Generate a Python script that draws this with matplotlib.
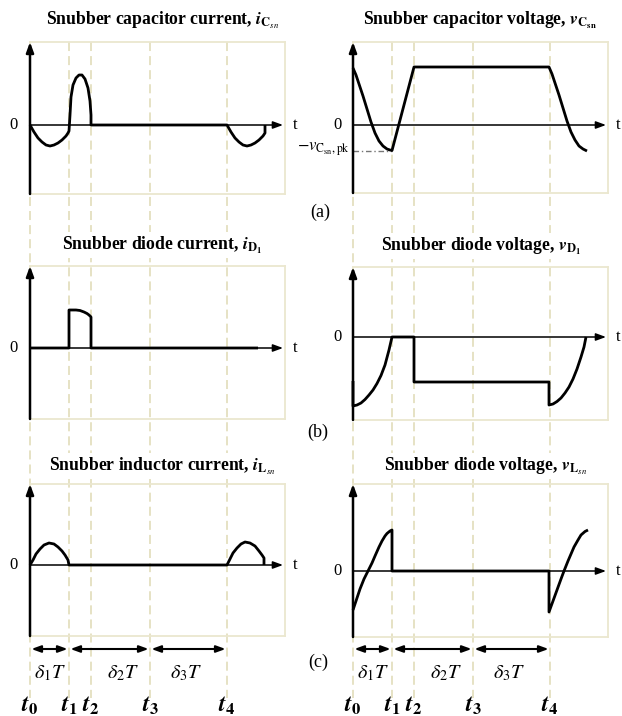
import matplotlib
matplotlib.use('Agg')
import matplotlib.pyplot as plt
import matplotlib.transforms as mtransforms
from matplotlib.lines import Line2D

plt.rcParams['font.family'] = ['Liberation Serif', 'DejaVu Serif']
plt.rcParams['mathtext.fontset'] = 'stix'

# ---------------- data (time in schematic units, amplitude in schematic units) ----------------
t_marks = [0, 39, 61, 120, 197]
t_mark_labels = [r'$\mathbfit{t}_{\mathbf{0}}$', r'$\mathbfit{t}_{\mathbf{1}}$', r'$\mathbfit{t}_{\mathbf{2}}$',
                 r'$\mathbfit{t}_{\mathbf{3}}$', r'$\mathbfit{t}_{\mathbf{4}}$']
delta_spans = [(0, 39), (39, 120), (120, 197)]
delta_labels = [r'$\delta_1 T$', r'$\delta_2 T$', r'$\delta_3 T$']

titles = [
    r'Snubber capacitor current, $\mathbfit{i}_{\mathbf{C}_{\mathit{sn}}}$',
    r'Snubber capacitor voltage, $\mathbfit{v}_{\mathbf{C}_{\mathbf{sn}}}$',
    r'Snubber diode current, $\mathbfit{i}_{\mathbf{D}_{\mathbf{1}}}$',
    r'Snubber diode voltage, $\mathbfit{v}_{\mathbf{D}_{\mathbf{1}}}$',
    r'Snubber inductor current, $\mathbfit{i}_{\mathbf{L}_{\mathit{sn}}}$',
    r'Snubber diode voltage, $\mathbfit{v}_{\mathbf{L}_{\mathit{sn}}}$',
]
panel_labels = ['(a)', '(b)', '(c)']

icsn_t = [0, 4, 8, 12, 16, 20, 24, 28, 32, 36, 38,
          39, 40, 41, 43, 46, 49, 52, 55, 58, 60, 61, 61,
          197, 201, 205, 209, 213, 217, 221, 225, 229, 233, 235, 235]
icsn_y = [0, -7, -13, -17, -20, -21, -20, -18, -15, -11, -8,
          -6, 10, 28, 40, 47, 50, 50, 46, 37, 24, 10, 0,
          0, -7, -13, -17, -20, -21, -20, -18, -15, -11, -8, 0]

vcsn_t = [0, 3, 6, 10, 14, 18, 22, 26, 30, 34, 37, 39,
          61, 196, 199, 202, 206, 210, 214, 218, 222, 226, 230, 233, 234]
vcsn_y = [57, 50, 41, 29, 16, 3, -8, -16, -21, -24, -25, -25.5,
          58, 58, 51, 42, 30, 17, 4, -7, -15, -21, -24, -25.5, -26]
vcsn_pk = -25.5

id1_t = [0, 39, 39, 46, 50, 54, 57, 59, 61, 61, 228]
id1_y = [0, 0, 38, 38, 37.5, 36, 34.5, 33, 31, 0, 0]

vd1_t = [0, 0, 4, 8, 12, 16, 20, 24, 28, 32, 36, 39,
         61, 61, 196, 196, 200, 204, 208, 212, 216, 220, 224, 228, 231, 233]
vd1_y = [-44, -69, -68, -66, -62.5, -58, -53, -46.5, -38.5, -28, -13, 0,
         0, -45, -45, -68, -67, -64.5, -61, -56, -50, -42, -32, -20, -10, 0]

ilsn_t = [0, 3, 6, 10, 14, 19, 24, 28, 32, 35, 38, 39,
          197, 200, 203, 207, 211, 215, 220, 225, 229, 232, 234, 234]
ilsn_y = [0, 5, 11, 16, 20, 22, 21, 18, 14, 10, 5, 0,
          0, 6, 12, 17, 21, 23, 22, 19, 14, 10, 7, 0]

vlsn_t = [0, 4, 7, 11, 15, 19, 22, 26, 29, 32, 34, 37, 39, 39,
          196, 196, 200, 204, 208, 211, 215, 218, 221, 225, 228, 232, 235]
vlsn_y = [-39, -27, -18, -8, 0, 8, 15, 24, 30, 35, 37.5, 40, 41, 0,
          0, -41, -30, -19, -8, 0, 10, 17, 24, 31, 36, 39.5, 41]

waves = [(icsn_t, icsn_y), (vcsn_t, vcsn_y), (id1_t, id1_y),
         (vd1_t, vd1_y), (ilsn_t, ilsn_y), (vlsn_t, vlsn_y)]

# ---------------- layout (pixels) ----------------
W, H = 622, 716
# frame left, top, right, bottom, zero-line y
boxes = [(30, 42, 285, 194, 125), (353, 42, 608, 193, 125),
         (30, 266, 285, 419, 348), (353, 267, 608, 420, 337),
         (30, 484, 285, 636, 565), (353, 484, 608, 637, 571)]
title_pos = [(163, 20), (480, 20), (162, 245), (481, 246), (162, 466), (486, 466)]
label_pos = [(320, 212), (318, 432), (318, 662)]

FRAME = '#ebe7cf'
DASH = '#e4dfbf'

def fx(px):
    return px / W

def fy(py):
    return 1 - py / H

fig = plt.figure(figsize=(W / 100, H / 100), dpi=100)
fig.patch.set_facecolor('white')

axes = []
for i, (x0, y0, x1, y1, z) in enumerate(boxes):
    ax = fig.add_axes([fx(x0), fy(y1), (x1 - x0) / W, (y1 - y0) / H])
    ax.set_facecolor('none')
    ax.set_xlim(0, x1 - x0)
    ylo, yhi = z - y1, z - y0
    ax.set_ylim(ylo, yhi)
    ax.set_xticks([])
    ax.set_yticks([])
    for s in ax.spines.values():
        s.set_color(FRAME)
        s.set_linewidth(1.3)
    # y axis arrow
    ax.annotate('', xy=(0, yhi), xytext=(0, ylo),
                arrowprops=dict(arrowstyle='-|>,head_length=0.6,head_width=0.22',
                                color='black', lw=1.8, shrinkA=0, shrinkB=0),
                annotation_clip=False, zorder=4)
    # x axis arrow
    ax.annotate('', xy=(253, 0), xytext=(0, 0),
                arrowprops=dict(arrowstyle='-|>,head_length=0.6,head_width=0.22',
                                color='black', lw=1.1, shrinkA=0, shrinkB=0),
                annotation_clip=False, zorder=4)
    ax.text(-16, 0, '0', ha='center', va='center', fontsize=12)
    ax.text(265, 0, 't', ha='center', va='center', fontsize=12)
    t, y = waves[i]
    ax.plot(t, y, color='black', lw=2.0, solid_joinstyle='round',
            solid_capstyle='butt', clip_on=False, zorder=5)
    tx, ty = title_pos[i]
    fig.text(fx(tx), fy(ty), titles[i], ha='center', va='center', fontsize=12.7,
             fontweight='bold', zorder=5,
             bbox=dict(facecolor='white', edgecolor='none', pad=1.5))
    axes.append(ax)

# peak marker for capacitor voltage
axv = axes[1]
axv.plot([0, t_marks[1]], [vcsn_pk, vcsn_pk], ls=(0, (4, 2, 1, 2)), color='#777777', lw=1.0, zorder=3)
axv.text(-3, vcsn_pk + 1, r'$-v_{\mathrm{C_{sn}},\mathrm{pk}}$', ha='right', va='center', fontsize=12)

for (lx, ly), lab in zip(label_pos, panel_labels):
    fig.text(fx(lx), fy(ly), lab, ha='center', va='center', fontsize=13)

# vertical dashed time markers, delta arrows and time labels for each column
for col in (0, 1):
    axb = axes[4 + col]
    trans = mtransforms.blended_transform_factory(axb.transData, fig.transFigure)
    for tm in t_marks:
        ln = Line2D([tm, tm], [fy(42), fy(698)], transform=trans, color=DASH,
                    lw=1.3, dashes=(5, 2.8), zorder=-1)
        fig.add_artist(ln)
    for (a, b), lab, sh in zip(delta_spans, delta_labels, [0, 13, -3]):
        axb.annotate('', xy=(b, fy(649)), xytext=(a, fy(649)), xycoords=trans, textcoords=trans,
                     arrowprops=dict(arrowstyle='<|-|>,head_length=0.55,head_width=0.2',
                                     color='black', lw=1.5, shrinkA=1, shrinkB=1),
                     annotation_clip=False)
        axb.text((a + b) / 2 + sh, fy(673), lab, transform=trans, ha='center', va='center',
                 fontsize=14.5)
    for tm, lab in zip(t_marks, t_mark_labels):
        axb.text(tm, fy(706), lab, transform=trans, ha='center', va='center', fontsize=17)

fig.savefig('out.png', dpi=100)
